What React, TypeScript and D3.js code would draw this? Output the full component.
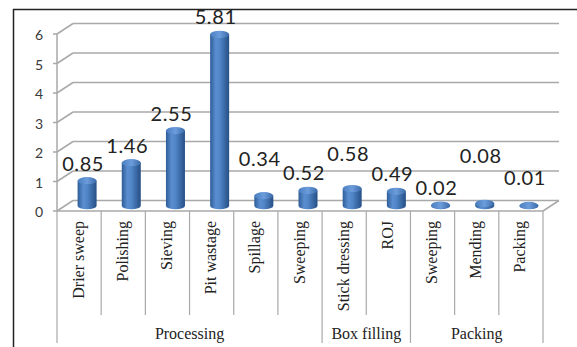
import React from "react";
import * as d3 from "d3";

// Wastage by operation, grouped by production stage
const categories = [
  "Drier sweep",
  "Polishing",
  "Sieving",
  "Pit wastage",
  "Spillage",
  "Sweeping",
  "Stick dressing",
  "ROJ",
  "Sweeping",
  "Mending",
  "Packing",
];
const values = [0.85, 1.46, 2.55, 5.81, 0.34, 0.52, 0.58, 0.49, 0.02, 0.08, 0.01];
const groupNames = ["Processing", "Box filling", "Packing"];
const groupSizes = [6, 2, 3];
const yTicks = [0, 1, 2, 3, 4, 5, 6];

// extra upward shift (px) for value labels that would otherwise collide
const labelLift = [0, 0, 0, 0, 20, 0, 18, 0, 0, 30, 10];

const W = 577;
const H = 347;
const FRONT_LEFT = 57;
const FRONT_RIGHT = 543;
const DEPTH_X = 16;
const DEPTH_Y = -10.5;
const GRID = "#a9a9a9";
const SERIF = "Liberation Serif, DejaVu Serif, Times New Roman, serif";
const SANS = "Lato, Open Sans, sans-serif";

export default function App() {
  const idx = categories.map((_, i) => i);
  const x = d3
    .scaleBand<number>()
    .domain(idx)
    .range([FRONT_LEFT, FRONT_RIGHT])
    .padding(0);
  const y = d3.scaleLinear().domain([0, 6]).range([211, 34]);

  const bw = x.bandwidth();
  const barW = 19;
  const rx = barW / 2;
  const ry = 3.6;
  const midDX = DEPTH_X / 2;
  const midDY = DEPTH_Y / 2;

  // group boundaries in category index
  const bounds: number[] = [0];
  groupSizes.forEach((s, i) => bounds.push(bounds[i] + s));

  const catLineBottom = 315;
  const groupLineBottom = 343;

  return (
    <svg
      width={W}
      height={H}
      style={{ position: "absolute", left: 0, top: 0, background: "#fff" }}
    >
      <defs>
        <linearGradient id="cyl" x1="0" x2="1" y1="0" y2="0">
          <stop offset="0%" stopColor="#2e5d98" />
          <stop offset="30%" stopColor="#5a8ed0" />
          <stop offset="50%" stopColor="#5186c8" />
          <stop offset="100%" stopColor="#264f85" />
        </linearGradient>
        <linearGradient id="cylTop" x1="0" x2="1" y1="0" y2="0">
          <stop offset="0%" stopColor="#4a7fc0" />
          <stop offset="50%" stopColor="#6c9cdb" />
          <stop offset="100%" stopColor="#3b6aa8" />
        </linearGradient>
      </defs>

      {/* outer frame */}
      <line x1={13.5} x2={13.5} y1={9} y2={H} stroke="#222" strokeWidth={1.5} />
      <line x1={13} x2={W} y1={9.5} y2={9.5} stroke="#222" strokeWidth={1.5} />

      {/* back wall gridlines and side wall diagonals */}
      {yTicks.map((t) => {
        const yf = y(t);
        return (
          <g key={"g" + t}>
            <line
              x1={FRONT_LEFT}
              y1={yf}
              x2={FRONT_LEFT + DEPTH_X}
              y2={yf + DEPTH_Y}
              stroke={GRID}
              strokeWidth={1.5}
            />
            <line
              x1={FRONT_LEFT + DEPTH_X}
              y1={yf + DEPTH_Y}
              x2={FRONT_RIGHT + DEPTH_X}
              y2={yf + DEPTH_Y}
              stroke={GRID}
              strokeWidth={1.5}
            />
            <line
              x1={FRONT_LEFT - 4}
              y1={yf}
              x2={FRONT_LEFT}
              y2={yf}
              stroke={GRID}
              strokeWidth={1.5}
            />
            <text
              x={43}
              y={yf + 2.5}
              textAnchor="end"
              dominantBaseline="middle"
              style={{ fontFamily: SANS, fontSize: 14 }}
              fill="#3a3a3a"
            >
              {t}
            </text>
          </g>
        );
      })}

      {/* floor front edge and right edge */}
      <line
        x1={FRONT_LEFT}
        y1={y(0)}
        x2={FRONT_RIGHT}
        y2={y(0)}
        stroke={GRID}
        strokeWidth={1.5}
      />
      <line
        x1={FRONT_RIGHT}
        y1={y(0)}
        x2={FRONT_RIGHT + DEPTH_X}
        y2={y(0) + DEPTH_Y}
        stroke={GRID}
        strokeWidth={1.5}
      />
      {/* value axis */}
      <line
        x1={FRONT_LEFT}
        y1={y(6)}
        x2={FRONT_LEFT}
        y2={y(0)}
        stroke={GRID}
        strokeWidth={1.5}
      />

      {/* category separators */}
      {d3.range(categories.length + 1).map((i) => {
        const xx = i < categories.length ? x(i)! : FRONT_RIGHT;
        const isGroup = bounds.includes(i);
        return (
          <line
            key={"s" + i}
            x1={xx}
            x2={xx}
            y1={y(0)}
            y2={isGroup ? groupLineBottom : catLineBottom}
            stroke={GRID}
            strokeWidth={1.2}
          />
        );
      })}

      {/* cylinders */}
      {values.map((v, i) => {
        const cx = x(i)! + bw / 2 + midDX;
        const base = y(0) + midDY;
        const top = y(v) + midDY;
        const l = cx - rx;
        const r = cx + rx;
        const body = `M${l},${top} L${l},${base} A${rx},${ry} 0 0 0 ${r},${base} L${r},${top} Z`;
        return (
          <g key={"b" + i}>
            <path d={body} fill="url(#cyl)" />
            <ellipse cx={cx} cy={top} rx={rx} ry={ry} fill="url(#cylTop)" />
          </g>
        );
      })}

      {/* value labels */}
      {values.map((v, i) => {
        const cx = x(i)! + bw / 2 + midDX - 4;
        const top = y(v) + midDY;
        return (
          <text
            key={"v" + i}
            x={cx}
            y={top - 10 - labelLift[i]}
            textAnchor="middle"
            style={{ fontFamily: SANS, fontSize: 20, letterSpacing: 0.6 }}
            fill="#222"
          >
            {v.toFixed(2)}
          </text>
        );
      })}

      {/* category labels */}
      {categories.map((c, i) => {
        const cx = x(i)! + bw / 2 + 4.5;
        return (
          <text
            key={"c" + i}
            transform={`translate(${cx},221) rotate(-90)`}
            textAnchor="end"
            style={{ fontFamily: SERIF, fontSize: 16 }}
            fill="#222"
          >
            {c}
          </text>
        );
      })}

      {/* group labels */}
      {groupNames.map((g, gi) => {
        const a = x(bounds[gi])!;
        const b = bounds[gi + 1] < categories.length ? x(bounds[gi + 1])! : FRONT_RIGHT;
        return (
          <text
            key={"grp" + gi}
            x={(a + b) / 2}
            y={339}
            textAnchor="middle"
            style={{ fontFamily: SERIF, fontSize: 16 }}
            fill="#222"
          >
            {g}
          </text>
        );
      })}
    </svg>
  );
}
